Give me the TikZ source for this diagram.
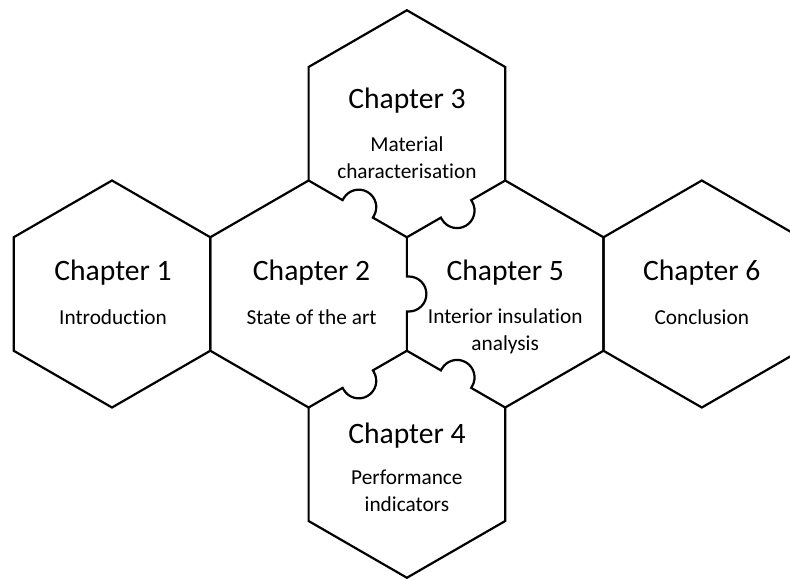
\documentclass[tikz,border=0pt]{standalone}
\usepackage{fontspec}
\setmainfont{Carlito}[Ligatures=CommonOff]
\usetikzlibrary{calc,positioning}

\newcommand\hexr{113.5pt}
\newcommand\knobr{17.5pt}
\newcommand\knobt{2pt}

\tikzset{
  edge/.style={black, line width=2.2pt, line cap=round, line join=miter},
  chaptitle/.style={inner sep=0pt, font=\fontsize{29.6}{35}\selectfont},
  chapsub/.style={inner sep=0pt, align=center, font=\fontsize{21.3}{26.5}\selectfont}
}

% straight edge from #1 to #2 with a round tab in its middle (#3 = 1: tab on the left, -1: on the right)
\newcommand\tabedge[3]{%
  \draw[edge] let \p1=($(#2)-(#1)$), \n1={atan2(\y1,\x1)} in
    (#1) -- ($(#1)!0.5!(#2)!\knobr!(#1)$) -- ++({\n1+90*(#3)}:\knobt)
    arc[start angle={\n1+180}, delta angle={-180*(#3)}, radius=\knobr]
    -- ($(#1)!0.5!(#2)!\knobr!(#2)$) -- (#2);}

\begin{document}
\begin{tikzpicture}[x=1pt,y=1pt]
\useasboundingbox (0,0) rectangle (790,-579);
\clip (0,0) rectangle (790,-579);

\coordinate (h1) at (112,-294);
\coordinate (h2) at (308.6,-294);
\coordinate (h5) at (505.2,-294);
\coordinate (h6) at (701.8,-294);
\coordinate (h3) at (406.9,-123.75);
\coordinate (h4) at (406.9,-464.25);

\foreach \i in {1,...,6}
  \foreach \k/\a in {0/90,1/150,2/210,3/270,4/330,5/30}
    \coordinate (h\i-\k) at ($(h\i)+(\a:\hexr)$);

\draw[edge] (h1-0) -- (h1-1) -- (h1-2) -- (h1-3) -- (h1-4) -- (h1-5) -- cycle;
\draw[edge] (h6-0) -- (h6-1) -- (h6-2) -- (h6-3) -- (h6-4) -- (h6-5) -- cycle;
\draw[edge] (h2-3) -- (h2-2) -- (h2-1) -- (h2-0);
\draw[edge] (h3-2) -- (h3-1) -- (h3-0) -- (h3-5) -- (h3-4);
\draw[edge] (h5-0) -- (h5-5) -- (h5-4) -- (h5-3);
\draw[edge] (h4-1) -- (h4-2) -- (h4-3) -- (h4-4) -- (h4-5);

% puzzle tabs
\tabedge{h2-0}{h2-5}{1}
\tabedge{h3-3}{h3-4}{-1}
\tabedge{h2-5}{h2-4}{1}
\tabedge{h2-3}{h2-4}{-1}
\tabedge{h4-0}{h4-5}{1}

\node[chaptitle, anchor=base] (chap1) at ($(h1)+(1,14)$) {Chapter 1};
\node[chaptitle, anchor=base] (chap2) at ($(h2)+(3,14)$) {Chapter 2};
\node[chaptitle, anchor=base] (chap3) at ($(h3)+(0,15.4)$) {Chapter 3};
\node[chaptitle, anchor=base] (chap4) at ($(h4)+(0,21)$) {Chapter 4};
\node[chaptitle, anchor=base] (chap5) at ($(h5)+(0,14)$) {Chapter 5};
\node[chaptitle, anchor=base] (chap6) at ($(h6)+(0,14)$) {Chapter 6};

\node[chapsub, below=44pt of chap1.base, anchor=base] (sub1) {Introduction};
\node[chapsub, below=44pt of chap2.base, anchor=base] (sub2) {State of the art};
\node[chapsub, below=70pt of chap3.base, anchor=base] (sub3) {Material\\characterisation};
\node[chapsub, below=68pt of chap4.base, anchor=base] (sub4) {Performance\\indicators};
\node[chapsub, below=70pt of chap5.base, anchor=base] (sub5) {Interior insulation\\analysis};
\node[chapsub, below=44pt of chap6.base, anchor=base] (sub6) {Conclusion};
\end{tikzpicture}
\end{document}
